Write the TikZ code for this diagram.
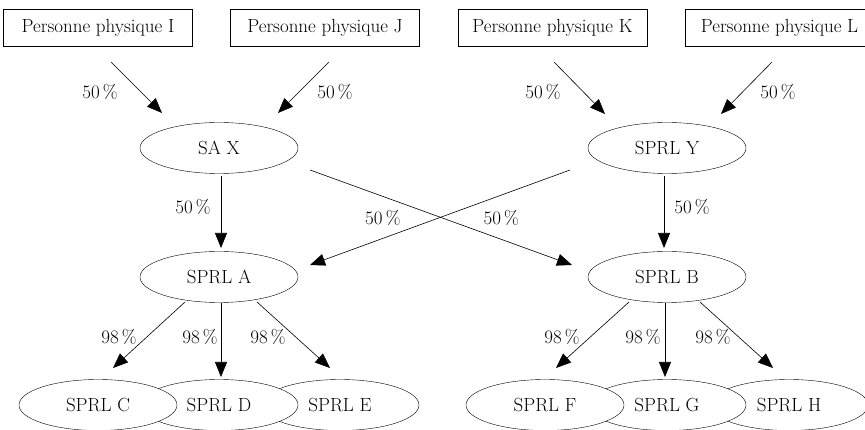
\documentclass[tikz,border=0pt]{standalone}
\usepackage{tikz}
\usetikzlibrary{calc}
\usetikzlibrary{shapes.geometric}
\usetikzlibrary{arrows.meta}
\newcommand{\textsize}{\fontsize{19}{22}\selectfont}
\newcommand{\pct}[1]{#1\,\%}
\tikzset{
    common/.style={draw, inner sep=0pt, font=\textsize},
    person/.style={common, rectangle, minimum width=189pt, minimum height=37pt},
    firm/.style={common, ellipse, fill=white, minimum width=158pt, minimum height=51pt},
    share/.style={-{Triangle[length=15pt, width=12pt]}, line width=0.6pt},
    rate/.style={font=\textsize, inner sep=0pt}
}
\begin{document}
\begin{tikzpicture}[x=1pt, y=-1pt]
      \useasboundingbox (0,0) rectangle (865,430);

      % owners
      \node[person] (I) at (98,27.5) {Personne physique I};
      \node[person] (J) at (325,27.5) {Personne physique J};
      \node[person] (K) at (552.5,27.5) {Personne physique K};
      \node[person] (L) at (779.5,27.5) {Personne physique L};

      % holdings
      \node[firm] (SAX) at (219,148) {SA X};
      \node[firm] (SPRLY) at (667,148) {SPRL Y};
      \node[firm] (SPRLA) at (219,277) {SPRL A};
      \node[firm] (SPRLB) at (667,277) {SPRL B};

      % subsidiaries, left one on top
      \node[firm] (SPRLE) at (340,405) {SPRL E};
      \node[firm] (SPRLD) at (219,405) {SPRL D};
      \node[firm] (SPRLC) at (98,405) {SPRL C};
      \node[firm] (SPRLH) at (789,405) {SPRL H};
      \node[firm] (SPRLG) at (667,405) {SPRL G};
      \node[firm] (SPRLF) at (545,405) {SPRL F};

      \draw[share] ($(I)+(13,34.5)$) -- ($(SAX)+(-57,-35)$)
          node[rate, midway, xshift=-36.5pt, yshift=-4.5pt] {\pct{50}};
      \draw[share] ($(J)+(4,34.5)$) -- ($(SAX)+(59,-35)$)
          node[rate, midway, xshift=31.5pt, yshift=-4.5pt] {\pct{50}};
      \draw[share] ($(K)+(1.5,34.5)$) -- ($(SPRLY)+(-62,-34)$)
          node[rate, midway, xshift=-36.5pt, yshift=-4pt] {\pct{50}};
      \draw[share] ($(L)+(-7.5,34.5)$) -- ($(SPRLY)+(54,-34)$)
          node[rate, midway, xshift=31.5pt, yshift=-4pt] {\pct{50}};

      \draw[share] ($(SAX)+(2,28)$) -- ($(SPRLA)+(2,-29)$)
          node[rate, midway, xshift=-28pt, yshift=5pt] {\pct{50}};
      \draw[share] ($(SPRLY)+(-3,28)$) -- ($(SPRLB)+(-3,-29)$)
          node[rate, midway, xshift=28pt, yshift=5pt] {\pct{50}};
      \draw[share] ($(SAX)+(91,22)$) -- ($(SPRLB)+(-95,-12)$)
          node[rate, pos=.73, yshift=21pt] {\pct{50}};
      \draw[share] ($(SPRLY)+(-97,22)$) -- ($(SPRLA)+(91,-12)$)
          node[rate, pos=.72, yshift=20pt] {\pct{50}};

      \draw[share] ($(SPRLA)+(-34,25)$) -- ($(SPRLC)+(15,-37)$)
          node[rate, midway, xshift=-30pt, yshift=-2pt] {\pct{98}};
      \draw[share] ($(SPRLA)+(2,26)$) -- ($(SPRLD)+(2,-28)$)
          node[rate, midway, xshift=-21pt, yshift=3pt] {\pct{98}};
      \draw[share] ($(SPRLA)+(38,25)$) -- ($(SPRLE)+(-10,-37)$)
          node[rate, midway, xshift=-25.5pt, yshift=-2pt] {\pct{98}};
      \draw[share] ($(SPRLB)+(-38,25)$) -- ($(SPRLF)+(11,-37)$)
          node[rate, midway, xshift=-30.5pt, yshift=-2pt] {\pct{98}};
      \draw[share] ($(SPRLB)+(-2,26)$) -- ($(SPRLG)+(-2,-28)$)
          node[rate, midway, xshift=-22pt, yshift=3pt] {\pct{98}};
      \draw[share] ($(SPRLB)+(33,25)$) -- ($(SPRLH)+(-16,-37)$)
          node[rate, midway, xshift=-23.5pt, yshift=-2pt] {\pct{98}};
\end{tikzpicture}
\end{document}
